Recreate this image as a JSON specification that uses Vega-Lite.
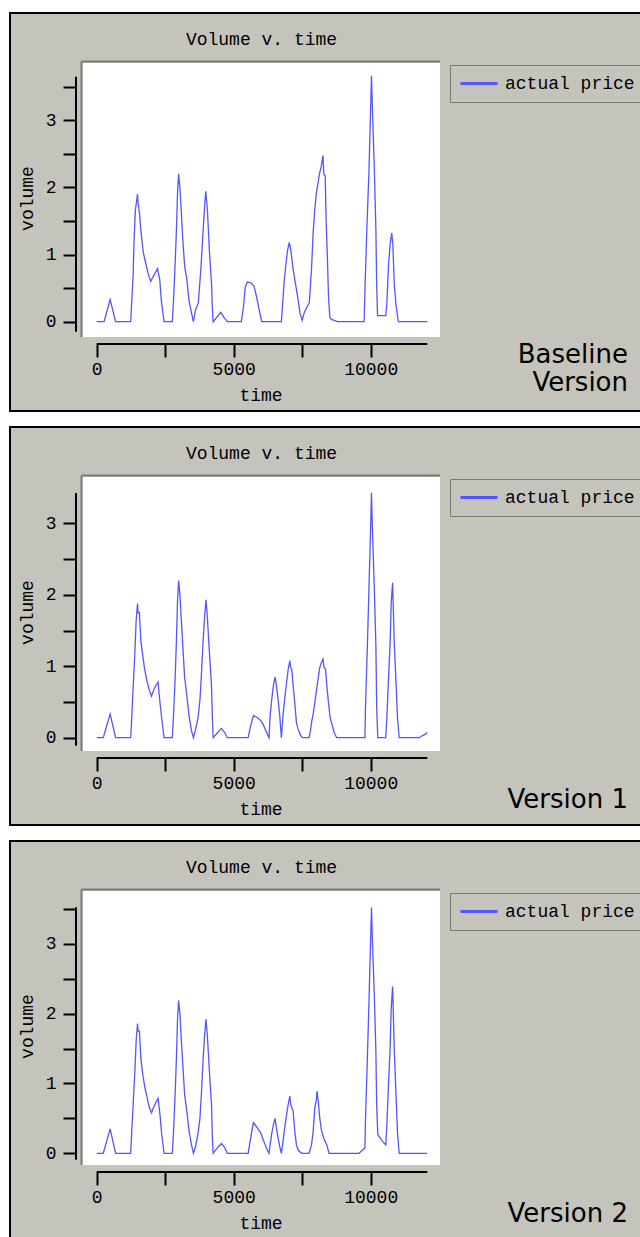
{
  "$schema": "https://vega.github.io/schema/vega-lite/v6.json",
  "background": "#ffffff",
  "padding": {"left": 9, "top": 12, "right": 0, "bottom": 0},
  "spacing": 14,
  "datasets": {
    "one": [{}],
    "p1": [
      {"time": 0, "volume": 0}, {"time": 270, "volume": 0}, {"time": 490, "volume": 0.33}, {"time": 690, "volume": 0},
      {"time": 1240, "volume": 0}, {"time": 1270, "volume": 0.23}, {"time": 1330, "volume": 0.7}, {"time": 1360, "volume": 1.18},
      {"time": 1410, "volume": 1.65}, {"time": 1490, "volume": 1.9}, {"time": 1510, "volume": 1.77}, {"time": 1560, "volume": 1.62},
      {"time": 1610, "volume": 1.37}, {"time": 1700, "volume": 1.03}, {"time": 1790, "volume": 0.87}, {"time": 1870, "volume": 0.73},
      {"time": 1970, "volume": 0.6}, {"time": 2220, "volume": 0.79}, {"time": 2300, "volume": 0.63}, {"time": 2360, "volume": 0.31},
      {"time": 2460, "volume": 0}, {"time": 2760, "volume": 0}, {"time": 2800, "volume": 0.28}, {"time": 2860, "volume": 0.83},
      {"time": 2910, "volume": 1.37}, {"time": 2950, "volume": 1.92}, {"time": 2990, "volume": 2.2}, {"time": 3040, "volume": 1.97},
      {"time": 3090, "volume": 1.62}, {"time": 3140, "volume": 1.23}, {"time": 3210, "volume": 0.83}, {"time": 3290, "volume": 0.63},
      {"time": 3370, "volume": 0.31}, {"time": 3460, "volume": 0.13}, {"time": 3530, "volume": 0}, {"time": 3610, "volume": 0.18},
      {"time": 3710, "volume": 0.28}, {"time": 3800, "volume": 0.78}, {"time": 3880, "volume": 1.32}, {"time": 3940, "volume": 1.72},
      {"time": 3980, "volume": 1.94}, {"time": 4040, "volume": 1.67}, {"time": 4110, "volume": 1.08}, {"time": 4190, "volume": 0.58},
      {"time": 4220, "volume": 0.23}, {"time": 4250, "volume": 0}, {"time": 4410, "volume": 0.08}, {"time": 4530, "volume": 0.14},
      {"time": 4650, "volume": 0.06}, {"time": 4770, "volume": 0}, {"time": 5280, "volume": 0}, {"time": 5360, "volume": 0.23},
      {"time": 5420, "volume": 0.51}, {"time": 5500, "volume": 0.59}, {"time": 5620, "volume": 0.58}, {"time": 5740, "volume": 0.53},
      {"time": 5840, "volume": 0.36}, {"time": 5930, "volume": 0.18}, {"time": 6020, "volume": 0}, {"time": 6740, "volume": 0},
      {"time": 6780, "volume": 0.23}, {"time": 6840, "volume": 0.58}, {"time": 6900, "volume": 0.83}, {"time": 6960, "volume": 1.05},
      {"time": 7030, "volume": 1.18}, {"time": 7080, "volume": 1.08}, {"time": 7170, "volume": 0.78}, {"time": 7270, "volume": 0.53},
      {"time": 7350, "volume": 0.33}, {"time": 7420, "volume": 0.13}, {"time": 7500, "volume": 0.02}, {"time": 7570, "volume": 0.13},
      {"time": 7690, "volume": 0.23}, {"time": 7760, "volume": 0.28}, {"time": 7840, "volume": 0.78}, {"time": 7900, "volume": 1.32},
      {"time": 7960, "volume": 1.67}, {"time": 8020, "volume": 1.92}, {"time": 8080, "volume": 2.07}, {"time": 8140, "volume": 2.22},
      {"time": 8200, "volume": 2.32}, {"time": 8260, "volume": 2.47}, {"time": 8290, "volume": 2.19}, {"time": 8340, "volume": 2.17},
      {"time": 8370, "volume": 1.57}, {"time": 8420, "volume": 0.95}, {"time": 8460, "volume": 0.38}, {"time": 8510, "volume": 0.06},
      {"time": 8570, "volume": 0.035}, {"time": 8670, "volume": 0.02}, {"time": 8790, "volume": 0}, {"time": 9760, "volume": 0},
      {"time": 9790, "volume": 0.46}, {"time": 9860, "volume": 1.38}, {"time": 9940, "volume": 2.27}, {"time": 10000, "volume": 3.21},
      {"time": 10030, "volume": 3.66}, {"time": 10060, "volume": 3.21}, {"time": 10130, "volume": 2.32}, {"time": 10190, "volume": 1.37},
      {"time": 10220, "volume": 0.53}, {"time": 10250, "volume": 0.09}, {"time": 10550, "volume": 0.09}, {"time": 10590, "volume": 0.26},
      {"time": 10650, "volume": 0.84}, {"time": 10710, "volume": 1.15}, {"time": 10770, "volume": 1.32}, {"time": 10810, "volume": 1.15},
      {"time": 10860, "volume": 0.56}, {"time": 10920, "volume": 0.26}, {"time": 11010, "volume": 0}, {"time": 12066, "volume": 0}
    ],
    "p2": [
      {"time": 0, "volume": 0}, {"time": 240, "volume": 0}, {"time": 490, "volume": 0.33}, {"time": 690, "volume": 0},
      {"time": 1240, "volume": 0}, {"time": 1270, "volume": 0.21}, {"time": 1330, "volume": 0.7}, {"time": 1390, "volume": 1.17},
      {"time": 1440, "volume": 1.64}, {"time": 1490, "volume": 1.88}, {"time": 1510, "volume": 1.75}, {"time": 1560, "volume": 1.75},
      {"time": 1610, "volume": 1.36}, {"time": 1680, "volume": 1.15}, {"time": 1750, "volume": 0.96}, {"time": 1830, "volume": 0.8},
      {"time": 1910, "volume": 0.68}, {"time": 2000, "volume": 0.58}, {"time": 2090, "volume": 0.68}, {"time": 2240, "volume": 0.78},
      {"time": 2310, "volume": 0.49}, {"time": 2370, "volume": 0.28}, {"time": 2460, "volume": 0}, {"time": 2760, "volume": 0},
      {"time": 2800, "volume": 0.28}, {"time": 2860, "volume": 0.8}, {"time": 2910, "volume": 1.36}, {"time": 2950, "volume": 1.92},
      {"time": 2990, "volume": 2.2}, {"time": 3040, "volume": 1.99}, {"time": 3090, "volume": 1.64}, {"time": 3150, "volume": 1.24},
      {"time": 3210, "volume": 0.84}, {"time": 3290, "volume": 0.59}, {"time": 3370, "volume": 0.31}, {"time": 3460, "volume": 0.1},
      {"time": 3530, "volume": 0}, {"time": 3610, "volume": 0.12}, {"time": 3700, "volume": 0.28}, {"time": 3770, "volume": 0.54},
      {"time": 3830, "volume": 0.94}, {"time": 3880, "volume": 1.33}, {"time": 3940, "volume": 1.71}, {"time": 3990, "volume": 1.93},
      {"time": 4040, "volume": 1.68}, {"time": 4110, "volume": 1.22}, {"time": 4190, "volume": 0.73}, {"time": 4220, "volume": 0.31},
      {"time": 4250, "volume": 0}, {"time": 4410, "volume": 0.07}, {"time": 4550, "volume": 0.13}, {"time": 4670, "volume": 0.07},
      {"time": 4770, "volume": 0}, {"time": 5530, "volume": 0}, {"time": 5590, "volume": 0.12}, {"time": 5650, "volume": 0.21},
      {"time": 5720, "volume": 0.31}, {"time": 5870, "volume": 0.28}, {"time": 5990, "volume": 0.24}, {"time": 6070, "volume": 0.19},
      {"time": 6170, "volume": 0.1}, {"time": 6250, "volume": 0.03}, {"time": 6290, "volume": 0}, {"time": 6330, "volume": 0.31},
      {"time": 6390, "volume": 0.54}, {"time": 6450, "volume": 0.73}, {"time": 6510, "volume": 0.85}, {"time": 6560, "volume": 0.73},
      {"time": 6620, "volume": 0.54}, {"time": 6680, "volume": 0.31}, {"time": 6740, "volume": 0}, {"time": 6800, "volume": 0.31},
      {"time": 6860, "volume": 0.54}, {"time": 6930, "volume": 0.77}, {"time": 6990, "volume": 0.96}, {"time": 7050, "volume": 1.08},
      {"time": 7080, "volume": 0.98}, {"time": 7120, "volume": 0.96}, {"time": 7170, "volume": 0.73}, {"time": 7230, "volume": 0.49},
      {"time": 7290, "volume": 0.21}, {"time": 7350, "volume": 0.12}, {"time": 7450, "volume": 0.03}, {"time": 7510, "volume": 0},
      {"time": 7750, "volume": 0}, {"time": 7790, "volume": 0.07}, {"time": 7840, "volume": 0.21}, {"time": 7900, "volume": 0.33},
      {"time": 7960, "volume": 0.49}, {"time": 8020, "volume": 0.66}, {"time": 8080, "volume": 0.82}, {"time": 8140, "volume": 0.98},
      {"time": 8200, "volume": 1.05}, {"time": 8260, "volume": 1.1}, {"time": 8300, "volume": 0.98}, {"time": 8350, "volume": 0.96},
      {"time": 8400, "volume": 0.73}, {"time": 8460, "volume": 0.49}, {"time": 8520, "volume": 0.28}, {"time": 8600, "volume": 0.17},
      {"time": 8670, "volume": 0.07}, {"time": 8760, "volume": 0}, {"time": 9790, "volume": 0}, {"time": 9810, "volume": 0.42},
      {"time": 9880, "volume": 1.29}, {"time": 9940, "volume": 2.13}, {"time": 10000, "volume": 2.97}, {"time": 10030, "volume": 3.43},
      {"time": 10060, "volume": 2.97}, {"time": 10130, "volume": 2.13}, {"time": 10190, "volume": 1.29}, {"time": 10220, "volume": 0.42},
      {"time": 10260, "volume": 0}, {"time": 10550, "volume": 0}, {"time": 10590, "volume": 0.28}, {"time": 10650, "volume": 0.82},
      {"time": 10710, "volume": 1.33}, {"time": 10750, "volume": 1.89}, {"time": 10800, "volume": 2.17}, {"time": 10820, "volume": 1.89},
      {"time": 10860, "volume": 1.33}, {"time": 10920, "volume": 0.82}, {"time": 10980, "volume": 0.28}, {"time": 11040, "volume": 0},
      {"time": 11770, "volume": 0}, {"time": 11890, "volume": 0.03}, {"time": 12010, "volume": 0.05}, {"time": 12066, "volume": 0.075}
    ],
    "p3": [
      {"time": 0, "volume": 0}, {"time": 240, "volume": 0}, {"time": 490, "volume": 0.35}, {"time": 690, "volume": 0},
      {"time": 1240, "volume": 0}, {"time": 1270, "volume": 0.24}, {"time": 1330, "volume": 0.7}, {"time": 1390, "volume": 1.15},
      {"time": 1440, "volume": 1.61}, {"time": 1490, "volume": 1.86}, {"time": 1510, "volume": 1.75}, {"time": 1560, "volume": 1.75},
      {"time": 1610, "volume": 1.37}, {"time": 1680, "volume": 1.13}, {"time": 1750, "volume": 0.96}, {"time": 1830, "volume": 0.82},
      {"time": 1910, "volume": 0.67}, {"time": 2000, "volume": 0.58}, {"time": 2090, "volume": 0.67}, {"time": 2240, "volume": 0.79},
      {"time": 2310, "volume": 0.55}, {"time": 2370, "volume": 0.28}, {"time": 2460, "volume": 0}, {"time": 2760, "volume": 0},
      {"time": 2800, "volume": 0.27}, {"time": 2860, "volume": 0.82}, {"time": 2910, "volume": 1.37}, {"time": 2950, "volume": 1.92},
      {"time": 2990, "volume": 2.19}, {"time": 3040, "volume": 1.99}, {"time": 3090, "volume": 1.61}, {"time": 3150, "volume": 1.22},
      {"time": 3210, "volume": 0.84}, {"time": 3290, "volume": 0.6}, {"time": 3370, "volume": 0.32}, {"time": 3460, "volume": 0.12},
      {"time": 3530, "volume": 0}, {"time": 3610, "volume": 0.1}, {"time": 3700, "volume": 0.29}, {"time": 3770, "volume": 0.51},
      {"time": 3830, "volume": 0.91}, {"time": 3880, "volume": 1.32}, {"time": 3940, "volume": 1.7}, {"time": 3990, "volume": 1.92},
      {"time": 4040, "volume": 1.68}, {"time": 4110, "volume": 1.2}, {"time": 4190, "volume": 0.7}, {"time": 4220, "volume": 0.24},
      {"time": 4250, "volume": 0}, {"time": 4410, "volume": 0.08}, {"time": 4550, "volume": 0.14}, {"time": 4670, "volume": 0.08},
      {"time": 4770, "volume": 0}, {"time": 5530, "volume": 0}, {"time": 5590, "volume": 0.15}, {"time": 5650, "volume": 0.29},
      {"time": 5720, "volume": 0.44}, {"time": 5870, "volume": 0.36}, {"time": 5990, "volume": 0.29}, {"time": 6070, "volume": 0.2},
      {"time": 6170, "volume": 0.1}, {"time": 6250, "volume": 0.03}, {"time": 6290, "volume": 0}, {"time": 6330, "volume": 0.12},
      {"time": 6390, "volume": 0.29}, {"time": 6450, "volume": 0.41}, {"time": 6510, "volume": 0.5}, {"time": 6560, "volume": 0.36},
      {"time": 6620, "volume": 0.22}, {"time": 6680, "volume": 0.1}, {"time": 6740, "volume": 0}, {"time": 6800, "volume": 0.17},
      {"time": 6860, "volume": 0.36}, {"time": 6930, "volume": 0.55}, {"time": 6990, "volume": 0.7}, {"time": 7050, "volume": 0.82},
      {"time": 7080, "volume": 0.7}, {"time": 7170, "volume": 0.6}, {"time": 7230, "volume": 0.32}, {"time": 7290, "volume": 0.12},
      {"time": 7350, "volume": 0.05}, {"time": 7450, "volume": 0.01}, {"time": 7510, "volume": 0}, {"time": 7750, "volume": 0},
      {"time": 7840, "volume": 0.12}, {"time": 7900, "volume": 0.31}, {"time": 7960, "volume": 0.65}, {"time": 8020, "volume": 0.77},
      {"time": 8040, "volume": 0.89}, {"time": 8080, "volume": 0.77}, {"time": 8140, "volume": 0.51}, {"time": 8200, "volume": 0.34},
      {"time": 8300, "volume": 0.2}, {"time": 8400, "volume": 0.12}, {"time": 8480, "volume": 0}, {"time": 9570, "volume": 0},
      {"time": 9690, "volume": 0.04}, {"time": 9790, "volume": 0.08}, {"time": 9810, "volume": 0.48}, {"time": 9880, "volume": 1.37},
      {"time": 9940, "volume": 2.2}, {"time": 10000, "volume": 3.09}, {"time": 10030, "volume": 3.52}, {"time": 10060, "volume": 3.09},
      {"time": 10130, "volume": 2.3}, {"time": 10190, "volume": 1.46}, {"time": 10220, "volume": 0.67}, {"time": 10260, "volume": 0.27},
      {"time": 10340, "volume": 0.22}, {"time": 10430, "volume": 0.17}, {"time": 10550, "volume": 0.12}, {"time": 10590, "volume": 0.41},
      {"time": 10650, "volume": 0.98}, {"time": 10710, "volume": 1.51}, {"time": 10750, "volume": 2.08}, {"time": 10800, "volume": 2.39},
      {"time": 10820, "volume": 2.11}, {"time": 10860, "volume": 1.49}, {"time": 10920, "volume": 0.89}, {"time": 10980, "volume": 0.29},
      {"time": 11040, "volume": 0}, {"time": 12066, "volume": 0}
    ]
  },
  "resolve": {"scale": {"color": "independent"}, "legend": {"color": "independent"}},
  "vconcat": [
    {
      "width": 632, "height": 398,
      "view": {"fill": "#c4c4bc", "stroke": "#000000", "strokeWidth": 2},
      "title": {"text": "Volume v. time", "anchor": "middle", "frame": "group", "orient": "top", "offset": 0, "dx": -64.5, "dy": 45, "baseline": "middle"},
      "layer": [
        {"data": {"name": "one"}, "mark": {"type": "rect", "color": "#ffffff"},
         "encoding": {
           "x": {"datum": -518, "type": "quantitative", "scale": {"domain": [-3164.6, 19903], "nice": false, "zero": false},
                 "axis": {"title": "time", "values": [0, 2500, 5000, 7500, 10000], "labelExpr": "datum.value % 5000 === 0 ? datum.label : ''", "encode": {"ticks": {"update": {"y2": {"signal": "datum.value % 5000 === 0 ? 13 : 8"}}}}}},
           "x2": {"datum": 12530},
           "y": {"datum": -0.228, "type": "quantitative", "scale": {"domain": [-1.3289, 4.5938], "nice": false, "zero": false},
                 "axis": {"title": "volume", "values": [0, 0.5, 1, 1.5, 2, 2.5, 3, 3.5], "labelExpr": "datum.value % 1 === 0 ? datum.label : ''", "encode": {"ticks": {"update": {"x2": {"signal": "datum.value % 1 === 0 ? -13 : -9"}}}, "labels": {"update": {"x": {"value": -20}}}}}},
           "y2": {"datum": 3.85}}},
        {"data": {"name": "one"}, "mark": {"type": "rule", "color": "#7a7a78", "strokeWidth": 2},
         "encoding": {
           "x": {"datum": -555, "type": "quantitative", "axis": {"title": "time", "values": [0, 2500, 5000, 7500, 10000], "labelExpr": "datum.value % 5000 === 0 ? datum.label : ''", "encode": {"ticks": {"update": {"y2": {"signal": "datum.value % 5000 === 0 ? 13 : 8"}}}}}},
           "x2": {"datum": 12530},
           "y": {"datum": 3.872, "type": "quantitative", "axis": {"title": "volume", "values": [0, 0.5, 1, 1.5, 2, 2.5, 3, 3.5], "labelExpr": "datum.value % 1 === 0 ? datum.label : ''", "encode": {"ticks": {"update": {"x2": {"signal": "datum.value % 1 === 0 ? -13 : -9"}}}, "labels": {"update": {"x": {"value": -20}}}}}}}},
        {"data": {"name": "one"}, "mark": {"type": "rule", "color": "#7a7a78", "strokeWidth": 2},
         "encoding": {
           "x": {"datum": -555, "type": "quantitative", "axis": {"title": "time", "values": [0, 2500, 5000, 7500, 10000], "labelExpr": "datum.value % 5000 === 0 ? datum.label : ''", "encode": {"ticks": {"update": {"y2": {"signal": "datum.value % 5000 === 0 ? 13 : 8"}}}}}},
           "y": {"datum": -0.228, "type": "quantitative", "axis": {"title": "volume", "values": [0, 0.5, 1, 1.5, 2, 2.5, 3, 3.5], "labelExpr": "datum.value % 1 === 0 ? datum.label : ''", "encode": {"ticks": {"update": {"x2": {"signal": "datum.value % 1 === 0 ? -13 : -9"}}}, "labels": {"update": {"x": {"value": -20}}}}}},
           "y2": {"datum": 3.872}}},
        {"data": {"name": "one"}, "mark": {"type": "rule", "color": "#000000", "strokeWidth": 2},
         "encoding": {
           "x": {"datum": 0, "type": "quantitative", "axis": {"title": "time", "values": [0, 2500, 5000, 7500, 10000], "labelExpr": "datum.value % 5000 === 0 ? datum.label : ''", "encode": {"ticks": {"update": {"y2": {"signal": "datum.value % 5000 === 0 ? 13 : 8"}}}}}},
           "x2": {"datum": 12066},
           "y": {"datum": -0.332, "type": "quantitative", "axis": {"title": "volume", "values": [0, 0.5, 1, 1.5, 2, 2.5, 3, 3.5], "labelExpr": "datum.value % 1 === 0 ? datum.label : ''", "encode": {"ticks": {"update": {"x2": {"signal": "datum.value % 1 === 0 ? -13 : -9"}}}, "labels": {"update": {"x": {"value": -20}}}}}}}},
        {"data": {"name": "one"}, "mark": {"type": "rule", "color": "#000000", "strokeWidth": 2},
         "encoding": {
           "x": {"datum": -755, "type": "quantitative", "axis": {"title": "time", "values": [0, 2500, 5000, 7500, 10000], "labelExpr": "datum.value % 5000 === 0 ? datum.label : ''", "encode": {"ticks": {"update": {"y2": {"signal": "datum.value % 5000 === 0 ? 13 : 8"}}}}}},
           "y": {"datum": -0.149, "type": "quantitative", "axis": {"title": "volume", "values": [0, 0.5, 1, 1.5, 2, 2.5, 3, 3.5], "labelExpr": "datum.value % 1 === 0 ? datum.label : ''", "encode": {"ticks": {"update": {"x2": {"signal": "datum.value % 1 === 0 ? -13 : -9"}}}, "labels": {"update": {"x": {"value": -20}}}}}},
           "y2": {"datum": 3.646}}},
        {"data": {"name": "p1"},
         "mark": {"type": "line", "strokeWidth": 1.3},
         "encoding": {
           "x": {"field": "time", "type": "quantitative", "scale": {"domain": [-3164.6, 19903], "nice": false, "zero": false},
                 "axis": {"title": "time", "values": [0, 2500, 5000, 7500, 10000], "labelExpr": "datum.value % 5000 === 0 ? datum.label : ''", "encode": {"ticks": {"update": {"y2": {"signal": "datum.value % 5000 === 0 ? 13 : 8"}}}}}},
           "y": {"field": "volume", "type": "quantitative", "scale": {"domain": [-1.3289, 4.5938], "nice": false, "zero": false},
                 "axis": {"title": "volume", "values": [0, 0.5, 1, 1.5, 2, 2.5, 3, 3.5], "labelExpr": "datum.value % 1 === 0 ? datum.label : ''", "encode": {"ticks": {"update": {"x2": {"signal": "datum.value % 1 === 0 ? -13 : -9"}}}, "labels": {"update": {"x": {"value": -20}}}}}},
           "color": {"datum": "actual price", "scale": {"range": ["#5555ff"]}, "legend": {"orient": "none", "legendX": 440, "legendY": 52, "title": null}}
         }},
        {"data": {"name": "one"}, "mark": {"type": "text", "align": "right", "baseline": "middle", "font": "DejaVu Sans", "fontSize": 26, "lineHeight": 28, "color": "#000000"},
         "encoding": {
           "x": {"datum": 19392, "type": "quantitative", "axis": {"title": "time", "values": [0, 2500, 5000, 7500, 10000], "labelExpr": "datum.value % 5000 === 0 ? datum.label : ''", "encode": {"ticks": {"update": {"y2": {"signal": "datum.value % 5000 === 0 ? 13 : 8"}}}}}},
           "y": {"datum": -0.496, "type": "quantitative", "axis": {"title": "volume", "values": [0, 0.5, 1, 1.5, 2, 2.5, 3, 3.5], "labelExpr": "datum.value % 1 === 0 ? datum.label : ''", "encode": {"ticks": {"update": {"x2": {"signal": "datum.value % 1 === 0 ? -13 : -9"}}}, "labels": {"update": {"x": {"value": -20}}}}}},
           "text": {"value": ["Baseline", "Version"]}}}
      ]
    },
    {
      "width": 632, "height": 398,
      "view": {"fill": "#c4c4bc", "stroke": "#000000", "strokeWidth": 2},
      "title": {"text": "Volume v. time", "anchor": "middle", "frame": "group", "orient": "top", "offset": 0, "dx": -64.5, "dy": 45, "baseline": "middle"},
      "layer": [
        {"data": {"name": "one"}, "mark": {"type": "rect", "color": "#ffffff"},
         "encoding": {
           "x": {"datum": -518, "type": "quantitative", "scale": {"domain": [-3164.6, 19903], "nice": false, "zero": false},
                 "axis": {"title": "time", "values": [0, 2500, 5000, 7500, 10000], "labelExpr": "datum.value % 5000 === 0 ? datum.label : ''", "encode": {"ticks": {"update": {"y2": {"signal": "datum.value % 5000 === 0 ? 13 : 8"}}}}}},
           "x2": {"datum": 12530},
           "y": {"datum": -0.186, "type": "quantitative", "scale": {"domain": [-1.2227, 4.3515], "nice": false, "zero": false},
                 "axis": {"title": "volume", "values": [0, 0.5, 1, 1.5, 2, 2.5, 3], "labelExpr": "datum.value % 1 === 0 ? datum.label : ''", "encode": {"ticks": {"update": {"x2": {"signal": "datum.value % 1 === 0 ? -13 : -9"}}}, "labels": {"update": {"x": {"value": -20}}}}}},
           "y2": {"datum": 3.651}}},
        {"data": {"name": "one"}, "mark": {"type": "rule", "color": "#7a7a78", "strokeWidth": 2},
         "encoding": {
           "x": {"datum": -555, "type": "quantitative", "axis": {"title": "time", "values": [0, 2500, 5000, 7500, 10000], "labelExpr": "datum.value % 5000 === 0 ? datum.label : ''", "encode": {"ticks": {"update": {"y2": {"signal": "datum.value % 5000 === 0 ? 13 : 8"}}}}}},
           "x2": {"datum": 12530},
           "y": {"datum": 3.672, "type": "quantitative", "axis": {"title": "volume", "values": [0, 0.5, 1, 1.5, 2, 2.5, 3], "labelExpr": "datum.value % 1 === 0 ? datum.label : ''", "encode": {"ticks": {"update": {"x2": {"signal": "datum.value % 1 === 0 ? -13 : -9"}}}, "labels": {"update": {"x": {"value": -20}}}}}}}},
        {"data": {"name": "one"}, "mark": {"type": "rule", "color": "#7a7a78", "strokeWidth": 2},
         "encoding": {
           "x": {"datum": -555, "type": "quantitative", "axis": {"title": "time", "values": [0, 2500, 5000, 7500, 10000], "labelExpr": "datum.value % 5000 === 0 ? datum.label : ''", "encode": {"ticks": {"update": {"y2": {"signal": "datum.value % 5000 === 0 ? 13 : 8"}}}}}},
           "y": {"datum": -0.186, "type": "quantitative", "axis": {"title": "volume", "values": [0, 0.5, 1, 1.5, 2, 2.5, 3], "labelExpr": "datum.value % 1 === 0 ? datum.label : ''", "encode": {"ticks": {"update": {"x2": {"signal": "datum.value % 1 === 0 ? -13 : -9"}}}, "labels": {"update": {"x": {"value": -20}}}}}},
           "y2": {"datum": 3.672}}},
        {"data": {"name": "one"}, "mark": {"type": "rule", "color": "#000000", "strokeWidth": 2},
         "encoding": {
           "x": {"datum": 0, "type": "quantitative", "axis": {"title": "time", "values": [0, 2500, 5000, 7500, 10000], "labelExpr": "datum.value % 5000 === 0 ? datum.label : ''", "encode": {"ticks": {"update": {"y2": {"signal": "datum.value % 5000 === 0 ? 13 : 8"}}}}}},
           "x2": {"datum": 12066},
           "y": {"datum": -0.284, "type": "quantitative", "axis": {"title": "volume", "values": [0, 0.5, 1, 1.5, 2, 2.5, 3], "labelExpr": "datum.value % 1 === 0 ? datum.label : ''", "encode": {"ticks": {"update": {"x2": {"signal": "datum.value % 1 === 0 ? -13 : -9"}}}, "labels": {"update": {"x": {"value": -20}}}}}}}},
        {"data": {"name": "one"}, "mark": {"type": "rule", "color": "#000000", "strokeWidth": 2},
         "encoding": {
           "x": {"datum": -755, "type": "quantitative", "axis": {"title": "time", "values": [0, 2500, 5000, 7500, 10000], "labelExpr": "datum.value % 5000 === 0 ? datum.label : ''", "encode": {"ticks": {"update": {"y2": {"signal": "datum.value % 5000 === 0 ? 13 : 8"}}}}}},
           "y": {"datum": -0.112, "type": "quantitative", "axis": {"title": "volume", "values": [0, 0.5, 1, 1.5, 2, 2.5, 3], "labelExpr": "datum.value % 1 === 0 ? datum.label : ''", "encode": {"ticks": {"update": {"x2": {"signal": "datum.value % 1 === 0 ? -13 : -9"}}}, "labels": {"update": {"x": {"value": -20}}}}}},
           "y2": {"datum": 3.427}}},
        {"data": {"name": "p2"},
         "mark": {"type": "line", "strokeWidth": 1.3},
         "encoding": {
           "x": {"field": "time", "type": "quantitative", "scale": {"domain": [-3164.6, 19903], "nice": false, "zero": false},
                 "axis": {"title": "time", "values": [0, 2500, 5000, 7500, 10000], "labelExpr": "datum.value % 5000 === 0 ? datum.label : ''", "encode": {"ticks": {"update": {"y2": {"signal": "datum.value % 5000 === 0 ? 13 : 8"}}}}}},
           "y": {"field": "volume", "type": "quantitative", "scale": {"domain": [-1.2227, 4.3515], "nice": false, "zero": false},
                 "axis": {"title": "volume", "values": [0, 0.5, 1, 1.5, 2, 2.5, 3], "labelExpr": "datum.value % 1 === 0 ? datum.label : ''", "encode": {"ticks": {"update": {"x2": {"signal": "datum.value % 1 === 0 ? -13 : -9"}}}, "labels": {"update": {"x": {"value": -20}}}}}},
           "color": {"datum": "actual price", "scale": {"range": ["#5555ff"]}, "legend": {"orient": "none", "legendX": 440, "legendY": 52, "title": null}}
         }},
        {"data": {"name": "one"}, "mark": {"type": "text", "align": "right", "baseline": "middle", "font": "DejaVu Sans", "fontSize": 26, "color": "#000000"},
         "encoding": {
           "x": {"datum": 19392, "type": "quantitative", "axis": {"title": "time", "values": [0, 2500, 5000, 7500, 10000], "labelExpr": "datum.value % 5000 === 0 ? datum.label : ''", "encode": {"ticks": {"update": {"y2": {"signal": "datum.value % 5000 === 0 ? 13 : 8"}}}}}},
           "y": {"datum": -0.87, "type": "quantitative", "axis": {"title": "volume", "values": [0, 0.5, 1, 1.5, 2, 2.5, 3], "labelExpr": "datum.value % 1 === 0 ? datum.label : ''", "encode": {"ticks": {"update": {"x2": {"signal": "datum.value % 1 === 0 ? -13 : -9"}}}, "labels": {"update": {"x": {"value": -20}}}}}},
           "text": {"value": "Version 1"}}}
      ]
    },
    {
      "width": 632, "height": 398,
      "view": {"fill": "#c4c4bc", "stroke": "#000000", "strokeWidth": 2},
      "title": {"text": "Volume v. time", "anchor": "middle", "frame": "group", "orient": "top", "offset": 0, "dx": -64.5, "dy": 45, "baseline": "middle"},
      "layer": [
        {"data": {"name": "one"}, "mark": {"type": "rect", "color": "#ffffff"},
         "encoding": {
           "x": {"datum": -518, "type": "quantitative", "scale": {"domain": [-3164.6, 19903], "nice": false, "zero": false},
                 "axis": {"title": "time", "values": [0, 2500, 5000, 7500, 10000], "labelExpr": "datum.value % 5000 === 0 ? datum.label : ''", "encode": {"ticks": {"update": {"y2": {"signal": "datum.value % 5000 === 0 ? 13 : 8"}}}}}},
           "x2": {"datum": 12530},
           "y": {"datum": -0.168, "type": "quantitative", "scale": {"domain": [-1.2278, 4.4742], "nice": false, "zero": false},
                 "axis": {"title": "volume", "values": [0, 0.5, 1, 1.5, 2, 2.5, 3, 3.5], "labelExpr": "datum.value % 1 === 0 ? datum.label : ''", "encode": {"ticks": {"update": {"x2": {"signal": "datum.value % 1 === 0 ? -13 : -9"}}}, "labels": {"update": {"x": {"value": -20}}}}}},
           "y2": {"datum": 3.758}}},
        {"data": {"name": "one"}, "mark": {"type": "rule", "color": "#7a7a78", "strokeWidth": 2},
         "encoding": {
           "x": {"datum": -555, "type": "quantitative", "axis": {"title": "time", "values": [0, 2500, 5000, 7500, 10000], "labelExpr": "datum.value % 5000 === 0 ? datum.label : ''", "encode": {"ticks": {"update": {"y2": {"signal": "datum.value % 5000 === 0 ? 13 : 8"}}}}}},
           "x2": {"datum": 12530},
           "y": {"datum": 3.779, "type": "quantitative", "axis": {"title": "volume", "values": [0, 0.5, 1, 1.5, 2, 2.5, 3, 3.5], "labelExpr": "datum.value % 1 === 0 ? datum.label : ''", "encode": {"ticks": {"update": {"x2": {"signal": "datum.value % 1 === 0 ? -13 : -9"}}}, "labels": {"update": {"x": {"value": -20}}}}}}}},
        {"data": {"name": "one"}, "mark": {"type": "rule", "color": "#7a7a78", "strokeWidth": 2},
         "encoding": {
           "x": {"datum": -555, "type": "quantitative", "axis": {"title": "time", "values": [0, 2500, 5000, 7500, 10000], "labelExpr": "datum.value % 5000 === 0 ? datum.label : ''", "encode": {"ticks": {"update": {"y2": {"signal": "datum.value % 5000 === 0 ? 13 : 8"}}}}}},
           "y": {"datum": -0.168, "type": "quantitative", "axis": {"title": "volume", "values": [0, 0.5, 1, 1.5, 2, 2.5, 3, 3.5], "labelExpr": "datum.value % 1 === 0 ? datum.label : ''", "encode": {"ticks": {"update": {"x2": {"signal": "datum.value % 1 === 0 ? -13 : -9"}}}, "labels": {"update": {"x": {"value": -20}}}}}},
           "y2": {"datum": 3.779}}},
        {"data": {"name": "one"}, "mark": {"type": "rule", "color": "#000000", "strokeWidth": 2},
         "encoding": {
           "x": {"datum": 0, "type": "quantitative", "axis": {"title": "time", "values": [0, 2500, 5000, 7500, 10000], "labelExpr": "datum.value % 5000 === 0 ? datum.label : ''", "encode": {"ticks": {"update": {"y2": {"signal": "datum.value % 5000 === 0 ? 13 : 8"}}}}}},
           "x2": {"datum": 12066},
           "y": {"datum": -0.268, "type": "quantitative", "axis": {"title": "volume", "values": [0, 0.5, 1, 1.5, 2, 2.5, 3, 3.5], "labelExpr": "datum.value % 1 === 0 ? datum.label : ''", "encode": {"ticks": {"update": {"x2": {"signal": "datum.value % 1 === 0 ? -13 : -9"}}}, "labels": {"update": {"x": {"value": -20}}}}}}}},
        {"data": {"name": "one"}, "mark": {"type": "rule", "color": "#000000", "strokeWidth": 2},
         "encoding": {
           "x": {"datum": -755, "type": "quantitative", "axis": {"title": "time", "values": [0, 2500, 5000, 7500, 10000], "labelExpr": "datum.value % 5000 === 0 ? datum.label : ''", "encode": {"ticks": {"update": {"y2": {"signal": "datum.value % 5000 === 0 ? 13 : 8"}}}}}},
           "y": {"datum": -0.092, "type": "quantitative", "axis": {"title": "volume", "values": [0, 0.5, 1, 1.5, 2, 2.5, 3, 3.5], "labelExpr": "datum.value % 1 === 0 ? datum.label : ''", "encode": {"ticks": {"update": {"x2": {"signal": "datum.value % 1 === 0 ? -13 : -9"}}}, "labels": {"update": {"x": {"value": -20}}}}}},
           "y2": {"datum": 3.524}}},
        {"data": {"name": "p3"},
         "mark": {"type": "line", "strokeWidth": 1.3},
         "encoding": {
           "x": {"field": "time", "type": "quantitative", "scale": {"domain": [-3164.6, 19903], "nice": false, "zero": false},
                 "axis": {"title": "time", "values": [0, 2500, 5000, 7500, 10000], "labelExpr": "datum.value % 5000 === 0 ? datum.label : ''", "encode": {"ticks": {"update": {"y2": {"signal": "datum.value % 5000 === 0 ? 13 : 8"}}}}}},
           "y": {"field": "volume", "type": "quantitative", "scale": {"domain": [-1.2278, 4.4742], "nice": false, "zero": false},
                 "axis": {"title": "volume", "values": [0, 0.5, 1, 1.5, 2, 2.5, 3, 3.5], "labelExpr": "datum.value % 1 === 0 ? datum.label : ''", "encode": {"ticks": {"update": {"x2": {"signal": "datum.value % 1 === 0 ? -13 : -9"}}}, "labels": {"update": {"x": {"value": -20}}}}}},
           "color": {"datum": "actual price", "scale": {"range": ["#5555ff"]}, "legend": {"orient": "none", "legendX": 440, "legendY": 52, "title": null}}
         }},
        {"data": {"name": "one"}, "mark": {"type": "text", "align": "right", "baseline": "middle", "font": "DejaVu Sans", "fontSize": 26, "color": "#000000"},
         "encoding": {
           "x": {"datum": 19392, "type": "quantitative", "axis": {"title": "time", "values": [0, 2500, 5000, 7500, 10000], "labelExpr": "datum.value % 5000 === 0 ? datum.label : ''", "encode": {"ticks": {"update": {"y2": {"signal": "datum.value % 5000 === 0 ? 13 : 8"}}}}}},
           "y": {"datum": -0.87, "type": "quantitative", "axis": {"title": "volume", "values": [0, 0.5, 1, 1.5, 2, 2.5, 3, 3.5], "labelExpr": "datum.value % 1 === 0 ? datum.label : ''", "encode": {"ticks": {"update": {"x2": {"signal": "datum.value % 1 === 0 ? -13 : -9"}}}, "labels": {"update": {"x": {"value": -20}}}}}},
           "text": {"value": "Version 2"}}}
      ]
    }
  ],
  "config": {
    "font": "Liberation Mono",
    "axis": {"domain": false, "grid": false, "tickColor": "#000000", "tickWidth": 2, "tickSize": 13, "format": "d",
             "labelFont": "Liberation Mono", "labelFontSize": 18, "labelColor": "#000000",
             "titleFont": "Liberation Mono", "titleFontSize": 18, "titleFontWeight": "normal", "titleColor": "#000000",
             "labelOverlap": false, "labelBound": false, "labelFlush": false},
    "axisX": {"offset": -67, "labelBaseline": "middle", "labelPadding": 12, "titleX": 250.5, "titleY": 51, "titleAlign": "center", "titleBaseline": "middle"},
    "axisY": {"offset": -66, "labelPadding": 7, "titleX": -49, "titleY": 185, "titleAlign": "center", "titleBaseline": "middle", "titleAngle": 270},
    "legend": {"fillColor": "#c4c4bc", "strokeColor": "#7a7a78", "padding": 9, "symbolType": "stroke", "symbolSize": 1369,
               "symbolStrokeWidth": 3, "clipHeight": 19, "labelFont": "Liberation Mono", "labelFontSize": 18, "labelColor": "#000000", "labelOffset": 6},
    "title": {"font": "Liberation Mono", "fontSize": 18, "fontWeight": "normal", "color": "#000000"}
  }
}
